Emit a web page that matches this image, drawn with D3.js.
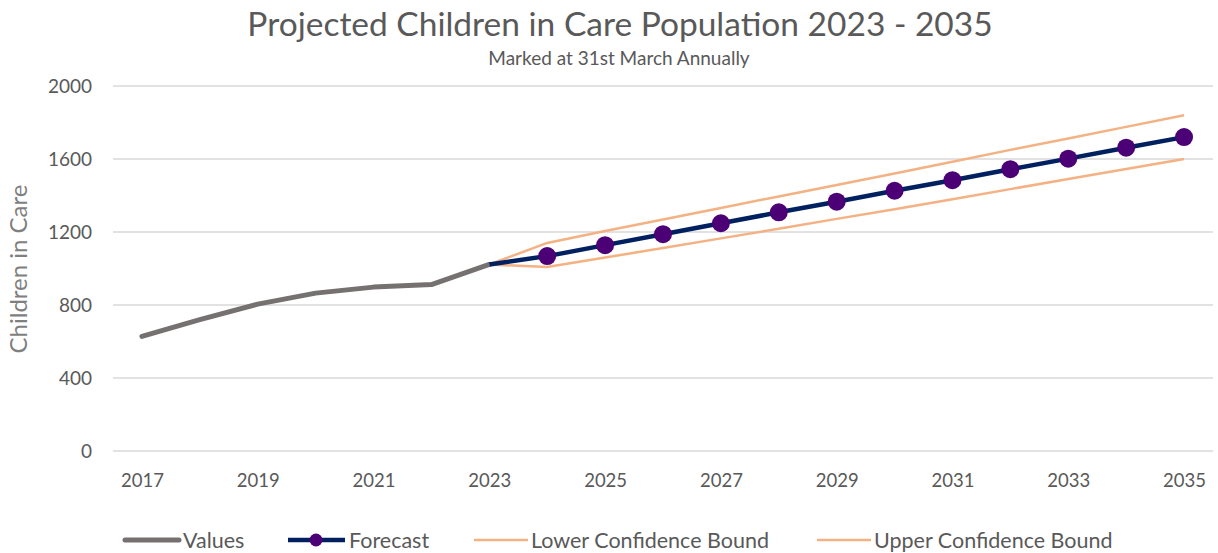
<!DOCTYPE html>
<html><head><meta charset="utf-8">
<script src="https://cdn.jsdelivr.net/npm/d3@7"></script>
<style>body{margin:0;background:#fff}svg{display:block}text{font-family:Lato,"Open Sans",sans-serif}</style>
</head><body><svg id="c" width="1218" height="553"></svg>
<script>
const years = d3.range(2017, 2036);
const tickYears = [2017,2019,2021,2023,2025,2027,2029,2031,2033,2035];
const yTicks = [0,400,800,1200,1600,2000];
const valueYears = [2017,2018,2019,2020,2021,2022,2023];
const values = [628,720,805,865,898,912,1022];
const forecastYears = [2023,2024,2025,2026,2027,2028,2029,2030,2031,2032,2033,2034,2035];
const forecast = [1022,1068,1128,1188,1248,1308,1366,1426,1484,1544,1602,1662,1720];
const lower = [1022,1008,1060,1112,1165,1218,1272,1325,1380,1435,1490,1545,1600];
const upper = [1022,1140,1205,1268,1332,1395,1458,1520,1585,1650,1712,1776,1840];

const svg = d3.select("#c");
const x = d3.scalePoint().domain(years).range([113,1213]).padding(0.5);
const y = d3.scaleLinear().domain([0,2000]).range([451,86]);

svg.append("text").attr("x",620).attr("y",36).attr("text-anchor","middle")
  .attr("font-size",33.5).attr("fill","#595959").text("Projected Children in Care Population 2023 - 2035");
svg.append("text").attr("x",619).attr("y",65).attr("text-anchor","middle")
  .attr("font-size",19).attr("fill","#595959").text("Marked at 31st March Annually");

// grid
svg.append("g").selectAll("line").data(yTicks).join("line")
  .attr("x1",113).attr("x2",1213).attr("y1",d=>y(d)).attr("y2",d=>y(d))
  .attr("stroke","#d9d9d9").attr("stroke-width",1.5);

const ya = svg.append("g").attr("transform","translate(113,0)")
  .call(d3.axisLeft(y).tickValues(yTicks).tickSize(0).tickPadding(21).tickFormat(d3.format("d")));
ya.select(".domain").remove();
ya.selectAll("text").attr("font-size",19).attr("fill","#595959").attr("font-family","Lato");

const xa = svg.append("g").attr("transform","translate(0,451)")
  .call(d3.axisBottom(x).tickValues(tickYears).tickSize(0).tickPadding(23));
xa.select(".domain").remove();
xa.selectAll("text").attr("font-size",18.5).attr("fill","#595959").attr("font-family","Lato");

svg.append("text").attr("transform","translate(27,269) rotate(-90)").attr("text-anchor","middle")
  .attr("font-size",24).attr("fill","#7f7f7f").text("Children in Care");

const line = d3.line().x(d=>x(d[0])).y(d=>y(d[1]));
svg.append("path").datum(valueYears.map((d,i)=>[d,values[i]])).attr("d",line)
  .attr("fill","none").attr("stroke","#767171").attr("stroke-width",5).attr("stroke-linecap","round").attr("stroke-linejoin","round");
svg.append("path").datum(forecastYears.map((d,i)=>[d,lower[i]])).attr("d",line)
  .attr("fill","none").attr("stroke","#F4B183").attr("stroke-width",2.5);
svg.append("path").datum(forecastYears.map((d,i)=>[d,upper[i]])).attr("d",line)
  .attr("fill","none").attr("stroke","#F4B183").attr("stroke-width",2.5);
svg.append("path").datum(forecastYears.map((d,i)=>[d,forecast[i]])).attr("d",line)
  .attr("fill","none").attr("stroke","#002060").attr("stroke-width",4.5).attr("stroke-linejoin","round");
svg.append("g").selectAll("circle").data(forecastYears.slice(1).map((d,i)=>[d,forecast[i+1]])).join("circle")
  .attr("cx",d=>x(d[0])).attr("cy",d=>y(d[1])).attr("r",9).attr("fill","#4B0076");

// legend
const leg = [
  {label:"Values", x:125, color:"#767171", w:5, marker:false},
  {label:"Forecast", x:288, color:"#002060", w:4.5, marker:true},
  {label:"Lower Confidence Bound", x:474, color:"#F4B183", w:2.5, marker:false},
  {label:"Upper Confidence Bound", x:817, color:"#F4B183", w:2.5, marker:false}
];
const lg = svg.append("g").selectAll("g").data(leg).join("g").attr("transform",d=>`translate(${d.x},540)`);
lg.append("line").attr("x1",0).attr("x2",d=>d.marker?57:54).attr("y1",0).attr("y2",0)
  .attr("stroke",d=>d.color).attr("stroke-width",d=>d.w).attr("stroke-linecap",d=>d.label==="Values"?"round":"butt");
lg.filter(d=>d.marker).append("circle").attr("cx",28).attr("cy",0).attr("r",6.5).attr("fill","#4B0076");
lg.append("text").attr("x",d=>d.marker?61:(d.label==="Values"?58:57)).attr("y",7.5).attr("font-size",21.5).attr("fill","#595959").text(d=>d.label);
</script></body></html>
